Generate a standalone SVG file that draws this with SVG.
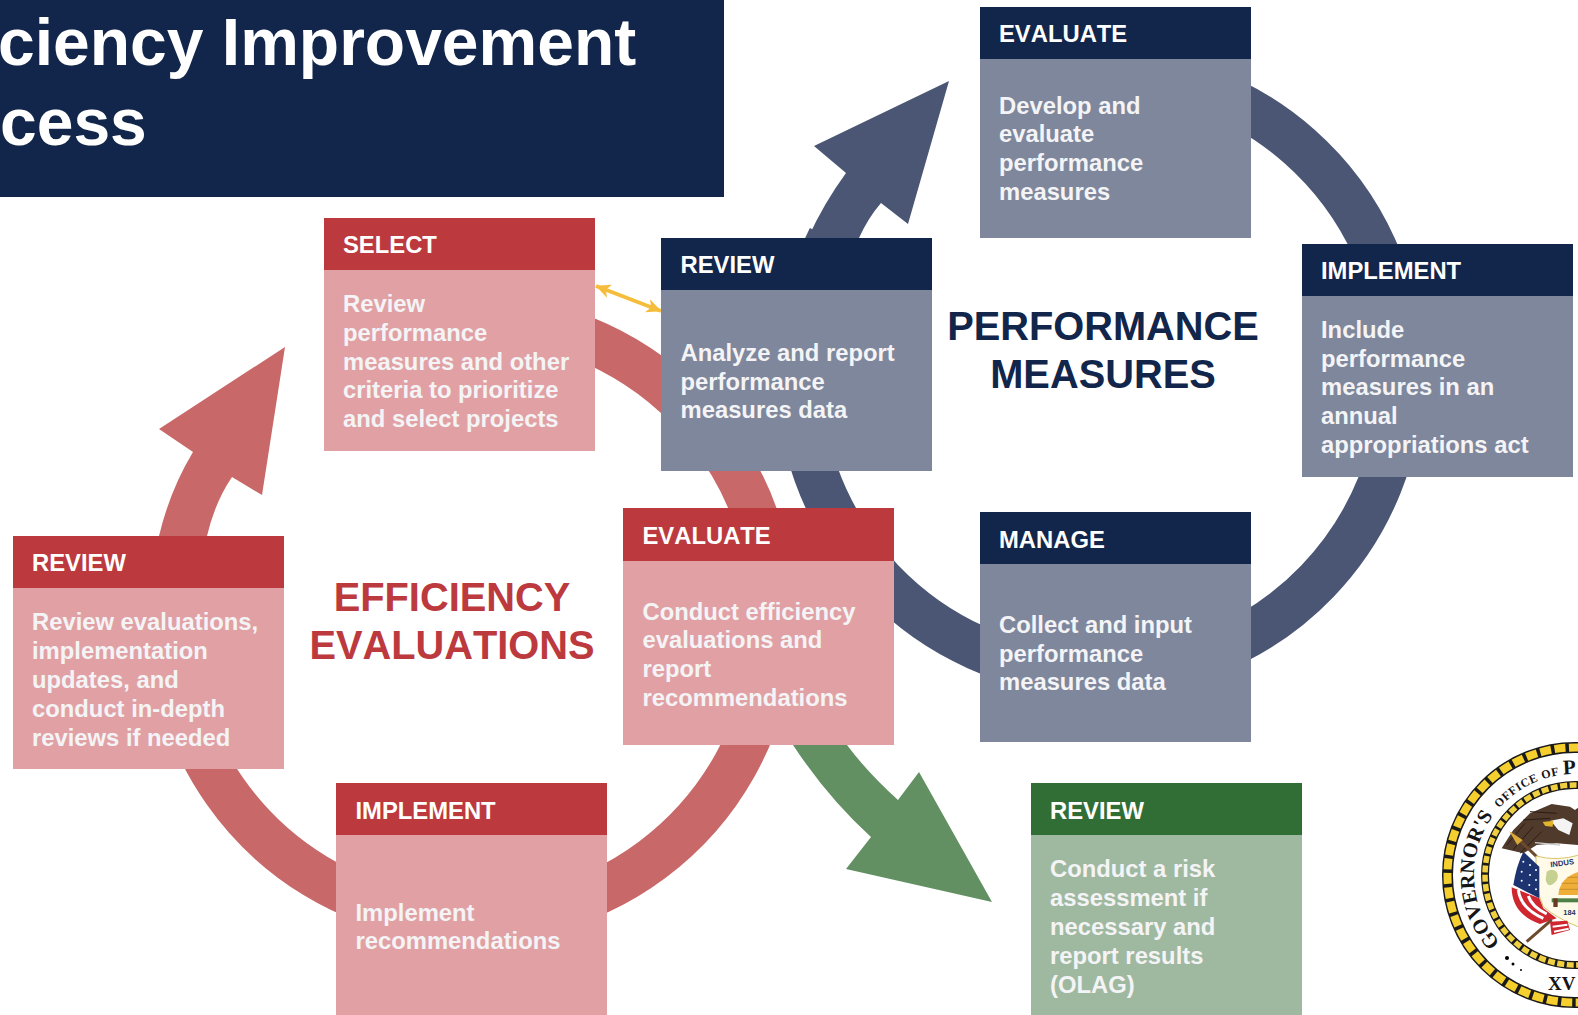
<svg xmlns="http://www.w3.org/2000/svg" width="1578" height="1015" viewBox="0 0 1578 1015">
<style>
text{font-family:"Liberation Sans",Arial,sans-serif;font-weight:700}
.h{font-size:23.8px;fill:#fff;font-kerning:none}
.b{font-size:23.8px;fill:#f4f4f6;font-kerning:none}
.navy{fill:#12254a}.slate{fill:#7f879c}
.red{fill:#bc393e}.pink{fill:#e1a1a4}
.green{fill:#316e36}.sage{fill:#9fb9a0}
.big{font-size:39.8px;text-anchor:middle;font-kerning:none}
.arc{fill:none;stroke-width:45}
.sf{font-family:"Liberation Serif",serif;fill:#151515}
</style>
<defs>
<marker id="ya" viewBox="0 0 15 16" refX="14.5" refY="8" markerWidth="15" markerHeight="16" markerUnits="userSpaceOnUse" orient="auto-start-reverse"><path d="M0 1 L15 8 L0 15 L4 8Z" fill="#f6bd3c"/></marker>
<path id="sealPath" d="M1575 976 A101 101 0 1 1 1575 774 A101 101 0 0 1 1676 875"/>
</defs>
<rect width="1578" height="1015" fill="#fff"/>
<g id="connectors">
<path class="arc" stroke="#4a5673" d="M1200 88 A301.5 301.5 0 1 1 830 238"/>
<path d="M808 238 Q824 203 846 173 L814 146 L949 81 L908 224 L881 203 Q868 218 859 238Z" fill="#4a5673"/>
<path class="arc" stroke="#c96868" d="M500 318 A301.5 301.5 0 1 1 176 560"/>
<path d="M159 536 Q170 490 193 452 L159 429 L285 347 L262 495 L232 477 Q215 502 207 536Z" fill="#c96868"/>
<path d="M793 745 Q828 798 871 837 L846 869 L992 902 L919 772 L898 800 Q868 773 847 745Z" fill="#629062"/>
<path d="M596 286 L661 311" fill="none" stroke="#f6bd3c" stroke-width="4" marker-start="url(#ya)" marker-end="url(#ya)"/>
</g>
<g id="title"><rect width="724" height="197" class="navy"/>
<text x="-2" y="65" font-size="66" fill="#fff">ciency Improvement</text>
<text x="0" y="145" font-size="66" fill="#fff">cess</text></g>
<g id="select"><rect x="324" y="218" width="271" height="233" class="pink"/><rect x="324" y="218" width="271" height="52" class="red"/>
<text x="343" y="253" class="h">SELECT</text>
<text class="b"><tspan x="343" y="312">Review</tspan><tspan x="343" y="341">performance</tspan><tspan x="343" y="370">measures and other</tspan><tspan x="343" y="398">criteria to prioritize</tspan><tspan x="343" y="427">and select projects</tspan></text></g>
<g id="review-pm"><rect x="661" y="238" width="271" height="233" class="slate"/><rect x="661" y="238" width="271" height="52" class="navy"/>
<text x="680.5" y="273" class="h">REVIEW</text>
<text class="b"><tspan x="680.5" y="361">Analyze and report</tspan><tspan x="680.5" y="390">performance</tspan><tspan x="680.5" y="418">measures data</tspan></text></g>
<g id="evaluate-pm"><rect x="980" y="7" width="271" height="231" class="slate"/><rect x="980" y="7" width="271" height="52" class="navy"/>
<text x="999" y="42" class="h">EVALUATE</text>
<text class="b"><tspan x="999" y="114">Develop and</tspan><tspan x="999" y="142">evaluate</tspan><tspan x="999" y="171">performance</tspan><tspan x="999" y="200">measures</tspan></text></g>
<g id="implement-pm"><rect x="1302" y="244" width="271" height="233" class="slate"/><rect x="1302" y="244" width="271" height="52" class="navy"/>
<text x="1321" y="279" class="h">IMPLEMENT</text>
<text class="b"><tspan x="1321" y="338">Include</tspan><tspan x="1321" y="367">performance</tspan><tspan x="1321" y="395">measures in an</tspan><tspan x="1321" y="424">annual</tspan><tspan x="1321" y="453">appropriations act</tspan></text></g>
<g id="manage-pm"><rect x="980" y="512" width="271" height="230" class="slate"/><rect x="980" y="512" width="271" height="52" class="navy"/>
<text x="999" y="547.5" class="h">MANAGE</text>
<text class="b"><tspan x="999" y="632.5">Collect and input</tspan><tspan x="999" y="661.5">performance</tspan><tspan x="999" y="689.5">measures data</tspan></text></g>
<g id="performance-label"><text class="big" fill="#12254a"><tspan x="1103" y="340">PERFORMANCE</tspan><tspan x="1103" y="388">MEASURES</tspan></text></g>
<g id="efficiency-label"><text class="big" fill="#bc393e"><tspan x="452" y="611">EFFICIENCY</tspan><tspan x="452" y="659">EVALUATIONS</tspan></text></g>
<g id="evaluate-ee"><rect x="623" y="508" width="271" height="237" class="pink"/><rect x="623" y="508" width="271" height="53" class="red"/>
<text x="642.5" y="544" class="h">EVALUATE</text>
<text class="b"><tspan x="642.5" y="620">Conduct efficiency</tspan><tspan x="642.5" y="648">evaluations and</tspan><tspan x="642.5" y="677">report</tspan><tspan x="642.5" y="706">recommendations</tspan></text></g>
<g id="review-ee"><rect x="13" y="536" width="271" height="233" class="pink"/><rect x="13" y="536" width="271" height="52" class="red"/>
<text x="32" y="571" class="h">REVIEW</text>
<text class="b"><tspan x="32" y="630">Review evaluations,</tspan><tspan x="32" y="659">implementation</tspan><tspan x="32" y="688">updates, and</tspan><tspan x="32" y="717">conduct in-depth</tspan><tspan x="32" y="746">reviews if needed</tspan></text></g>
<g id="implement-ee"><rect x="336" y="783" width="271" height="232" class="pink"/><rect x="336" y="783" width="271" height="52" class="red"/>
<text x="355.5" y="819" class="h">IMPLEMENT</text>
<text class="b"><tspan x="355.5" y="921">Implement</tspan><tspan x="355.5" y="949">recommendations</tspan></text></g>
<g id="review-risk"><rect x="1031" y="783" width="271" height="232" class="sage"/><rect x="1031" y="783" width="271" height="52" class="green"/>
<text x="1050" y="819" class="h">REVIEW</text>
<text class="b"><tspan x="1050" y="877">Conduct a risk</tspan><tspan x="1050" y="906">assessment if</tspan><tspan x="1050" y="935">necessary and</tspan><tspan x="1050" y="964">report results</tspan><tspan x="1050" y="993">(OLAG)</tspan></text></g>
<g id="seal">
<circle cx="1575" cy="875" r="131" fill="#fff"/>
<circle cx="1575" cy="875" r="127.5" fill="none" stroke="#1a1a1a" stroke-width="11"/>
<circle cx="1575" cy="875" r="127.5" fill="none" stroke="#f5cf2e" stroke-width="8" stroke-dasharray="11 3.5"/>
<circle cx="1575" cy="875" r="90" fill="none" stroke="#1a1a1a" stroke-width="8"/>
<circle cx="1575" cy="875" r="90" fill="none" stroke="#f0d040" stroke-width="5.5" stroke-dasharray="7 2.5"/>
<text class="sf"><textPath href="#sealPath" startOffset="84"><tspan font-size="20.5">GOVERNOR'S</tspan></textPath></text>
<text class="sf"><textPath href="#sealPath" startOffset="231" letter-spacing=".6"><tspan font-size="12">OFFICE OF</tspan></textPath></text>
<text class="sf"><textPath href="#sealPath" startOffset="305"><tspan font-size="21">P</tspan></textPath></text>
<text class="sf" x="1548" y="990" font-size="19">XV</text>
<circle cx="1507" cy="958" r="2"/><circle cx="1513" cy="964" r="1.5"/><circle cx="1521" cy="970" r="1"/>
<g transform="translate(1480 790) scale(.3333)">
<path d="M65 175 L100 120 L150 70 L215 42 L270 50 L285 60 L298 50 L298 165 L230 160 L170 165 L130 190Z" fill="#4f3a2c"/>
<path d="M80 165 L135 100 M100 178 L160 110 M120 190 L185 125 M150 65 L230 70 M130 90 L210 85" stroke="#2a1c14" stroke-width="3" fill="none"/>
<path d="M212 92 L250 85 L278 100 L268 135 L235 120Z" fill="#f4f4f4"/>
<path d="M188 96 L220 92 L218 110 L196 108Z" fill="#e3b52a"/>
<path d="M165 158 L240 165" stroke="#ccc" stroke-width="4"/>
<path d="M95 128 L170 200" stroke="#6b4a2d" stroke-width="9"/>
<path d="M88 124 L128 150 L112 165Z" fill="#d9a93a"/>
<path d="M168 198 Q230 215 298 195 L298 412 Q230 385 190 350 Q165 300 168 198Z" fill="#fffbe8" stroke="#d8c36a" stroke-width="3"/>
<path d="M235 315 Q240 262 298 245 L298 315Z" fill="#eeae38"/>
<path d="M245 280 H298 M238 298 H298 M262 262 H298" stroke="#b57f22" stroke-width="2"/>
<path d="M215 325 H298 V337 H215Z" fill="#4f8048"/>
<path d="M220 325 h13 v26 h-13Z" fill="#6b3a20"/>
<path d="M200 245 q15 -12 30 0 q10 20 -8 35 q-18 15 -25 -10Z" fill="#c6d191"/>
<path d="M95 292 Q95 372 180 402 L230 385 L190 355 L178 325 Z" fill="#cf2630"/>
<path d="M115 300 Q122 355 190 385 M145 318 Q155 350 200 372" fill="none" stroke="#fff" stroke-width="9"/>
<path d="M130 185 L178 230 L178 325 L100 285 Q108 230 130 185Z" fill="#1d3471"/>
<g fill="#fff"><circle cx="130" cy="215" r="3"/><circle cx="150" cy="225" r="3"/><circle cx="125" cy="245" r="3"/><circle cx="150" cy="255" r="3"/><circle cx="168" cy="240" r="3"/><circle cx="125" cy="272" r="3"/><circle cx="148" cy="285" r="3"/><circle cx="168" cy="270" r="3"/><circle cx="168" cy="298" r="3"/></g>
<path d="M140 455 L215 390" stroke="#6b4a2d" stroke-width="9"/>
<path d="M210 395 L262 392 L270 420 L215 435Z" fill="#cf2630"/>
<path d="M218 410 L262 404 M222 425 L266 416" stroke="#fff" stroke-width="6"/>
<text x="212" y="232" font-size="23" fill="#1d3471" transform="rotate(-8 212 232)">INDUS</text>
<text x="250" y="375" font-size="22" fill="#24345e">184</text>
</g>
</g>
</svg>
